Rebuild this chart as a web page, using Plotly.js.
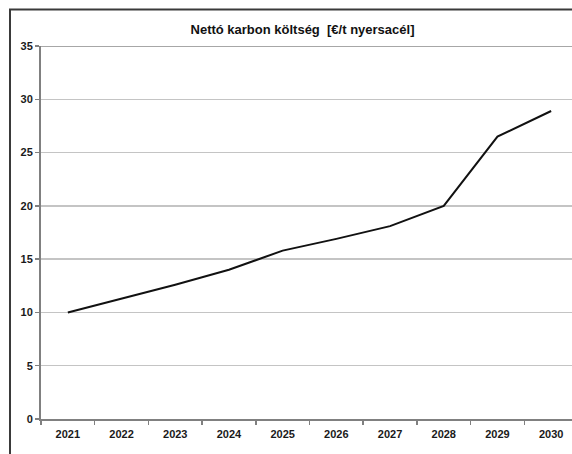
<!DOCTYPE html>
<html>
<head>
<meta charset="utf-8">
<script src="https://cdn.plot.ly/plotly-3.0.1.min.js"></script>
<style>
html,body{margin:0;padding:0;overflow:hidden;background:#fff;}
#chart{width:590px;height:470px;}
</style>
</head>
<body>
<div id="chart"></div>
<script>
const years = ["2021","2022","2023","2024","2025","2026","2027","2028","2029","2030"];
const netCost = [10, 11.3, 12.6, 14, 15.8, 16.9, 18.1, 20, 26.5, 28.9];
const yTicks = [0, 5, 10, 15, 20, 25, 30, 35];
const titleText = "Nettó karbon költség  [€/t nyersacél]";

const W = 590, H = 470, L = 41, T = 46, PW = 537, PH = 373;
const px2x = p => (p - L) / PW;
const py2y = p => (T + PH - p) / PH;

const trace = {
  x: years, y: netCost, type: "scatter", mode: "lines",
  line: {color: "#111111", width: 2}, hoverinfo: "skip"
};

const tickFont = {size: 11, color: "#1a1a1a", family: "Liberation Sans, Arial, sans-serif", weight: "bold"};

const layout = {
  width: W, height: H,
  margin: {l: L, t: T, r: W - L - PW, b: H - T - PH, pad: 0},
  paper_bgcolor: "#ffffff", plot_bgcolor: "#ffffff",
  showlegend: false,
  font: {family: "Liberation Sans, Arial, sans-serif", color: "#1a1a1a"},
  title: {
    text: "<b>" + titleText.replace(/  /g, "\u00a0 ") + "</b>",
    font: {size: 13, color: "#111"},
    x: px2x(302.5), xref: "paper", xanchor: "center",
    y: 1 - 29.5 / H, yref: "container", yanchor: "middle"
  },
  xaxis: {
    type: "category", range: [-0.5, 9.5],
    tickson: "boundaries", ticks: "outside", ticklen: 4, tickwidth: 1.5, tickcolor: "#808080",
    showline: true, linecolor: "#808080", linewidth: 2,
    showgrid: false, zeroline: false, ticklabelstandoff: 4,
    tickfont: tickFont
  },
  yaxis: {
    range: [0, 35], tickvals: yTicks, ticktext: yTicks.map(String),
    ticks: "outside", ticklen: 4, tickwidth: 1.5, tickcolor: "#808080",
    showline: true, linecolor: "#808080", linewidth: 2,
    showgrid: true, gridcolor: "#c4c4c4", gridwidth: 1.5, zeroline: false,
    tickfont: tickFont
  },
  shapes: [
    {type: "line", xref: "paper", yref: "y", x0: 0, x1: 1, y0: 35, y1: 35,
     line: {color: "#8a8a8a", width: 1.5}},
    {type: "rect", xref: "paper", yref: "paper",
     x0: px2x(10), x1: px2x(620), y0: py2y(520), y1: py2y(9.5),
     line: {color: "#3a3a3a", width: 2}, fillcolor: "rgba(0,0,0,0)", layer: "above"}
  ]
};

Plotly.newPlot("chart", [trace], layout, {staticPlot: true, displayModeBar: false});
</script>
</body>
</html>
